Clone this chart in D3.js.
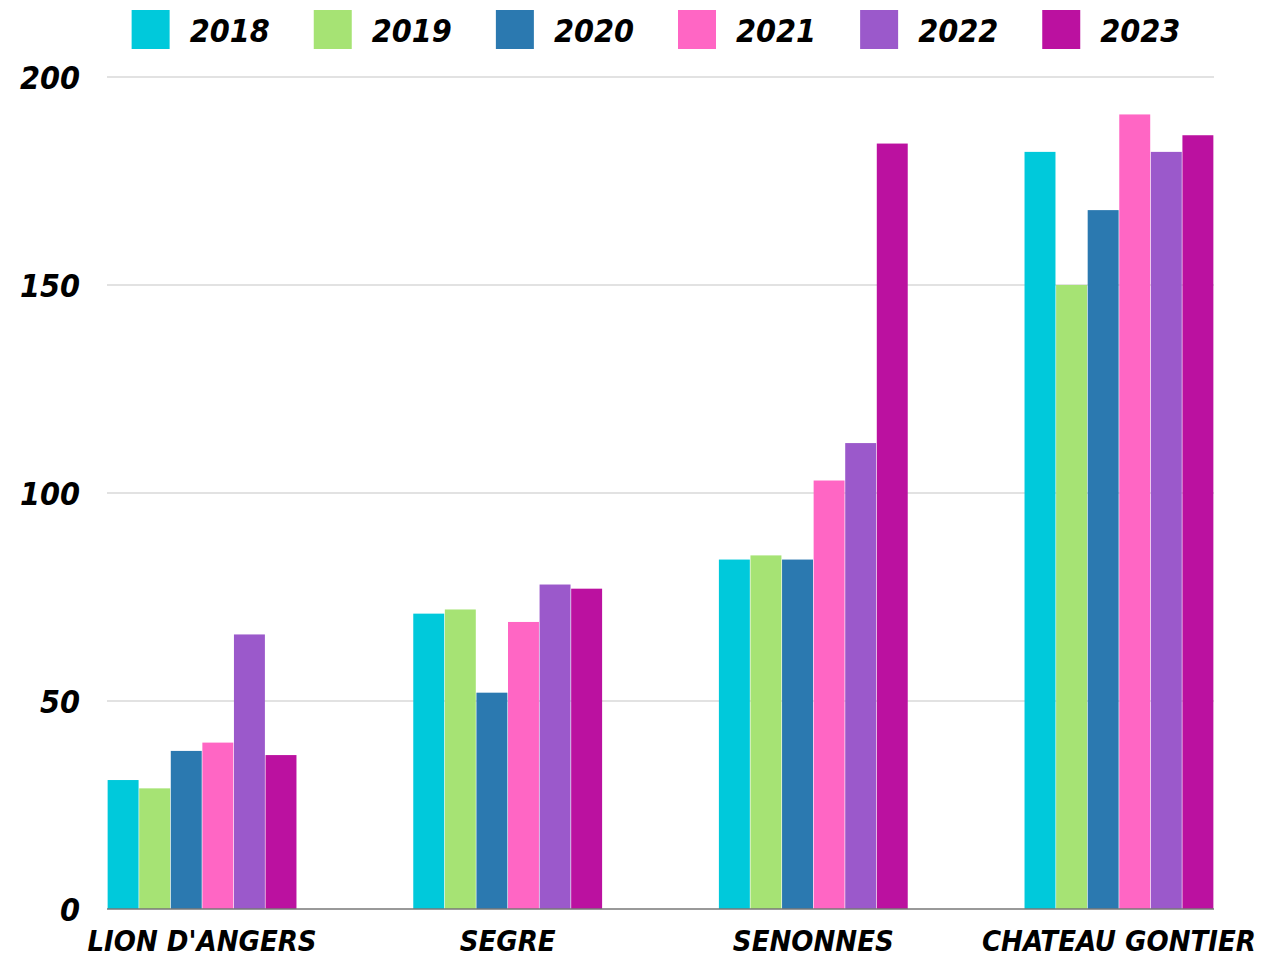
<!DOCTYPE html>
<html>
<head>
<meta charset="utf-8">
<script src="https://cdn.jsdelivr.net/npm/d3@7"></script>
<style>
  body { margin: 0; background: #fff; }
  text { font-family: "DejaVu Sans Condensed", "DejaVu Sans", sans-serif; font-weight: bold; font-style: oblique; fill: #000; }
</style>
</head>
<body>
<svg id="chart"></svg>
<script>
const towns = ["LION D'ANGERS", "SEGRE", "SENONNES", "CHATEAU GONTIER"];
const years = ["2018", "2019", "2020", "2021", "2022", "2023"];
const colors = ["#00c9db", "#a6e374", "#2b79b0", "#ff66c4", "#9b59cb", "#bb11a0"];
const v2018 = [31, 71, 84, 182];
const v2019 = [29, 72, 85, 150];
const v2020 = [38, 52, 84, 168];
const v2021 = [40, 69, 103, 191];
const v2022 = [66, 78, 112, 182];
const v2023 = [37, 77, 184, 186];
const yTicks = [0, 50, 100, 150, 200];

const series = [v2018, v2019, v2020, v2021, v2022, v2023];
const rows = towns.map((t, i) => ({town: t, vals: years.map((y, j) => ({year: y, value: series[j][i]}))}));

const W = 1261, H = 958;
const margin = {left: 107, right: 47, top: 77, bottom: 49};

const svg = d3.select("#chart")
    .attr("width", W)
    .attr("height", H)
    .attr("viewBox", [0, 0, W, H]);

const x0 = d3.scaleBand()
    .domain(towns)
    .range([margin.left, W - margin.right])
    .paddingInner(0.378)
    .paddingOuter(0);

const x1 = d3.scaleBand()
    .domain(years)
    .range([0, x0.bandwidth()])
    .padding(0.02);

const y = d3.scaleLinear()
    .domain([0, 200])
    .range([H - margin.bottom, margin.top]);

// grid
svg.append("g")
    .selectAll("line")
    .data(yTicks.filter(d => d > 0))
    .join("line")
    .attr("x1", margin.left)
    .attr("x2", W - margin.right)
    .attr("y1", d => y(d))
    .attr("y2", d => y(d))
    .style("stroke", "#d8d8d8")
    .style("stroke-width", 1.5);

// bars
const groups = svg.append("g")
    .selectAll("g")
    .data(rows)
    .join("g")
    .attr("transform", d => `translate(${x0(d.town)},0)`);

groups.selectAll("rect")
    .data(d => d.vals)
    .join("rect")
    .attr("x", d => x1(d.year))
    .attr("y", d => y(d.value))
    .attr("width", x1.bandwidth())
    .attr("height", d => y(0) - y(d.value))
    .style("fill", (d, i) => colors[i]);

// baseline
svg.append("line")
    .attr("x1", margin.left)
    .attr("x2", W - margin.right)
    .attr("y1", y(0))
    .attr("y2", y(0))
    .style("stroke", "#777")
    .style("stroke-width", 1.5);

// y labels
svg.append("g")
    .selectAll("text")
    .data(yTicks)
    .join("text")
    .attr("x", 80)
    .attr("y", d => y(d))
    .attr("dy", "0.38em")
    .attr("text-anchor", "end")
    .style("font-size", "32px")
    .text(d => d);

// x labels
svg.append("g")
    .selectAll("text")
    .data(towns)
    .join("text")
    .attr("x", d => x0(d) + x0.bandwidth() / 2)
    .attr("y", 951)
    .attr("text-anchor", "middle")
    .style("font-size", "29px")
    .text(d => d);

// legend
const legend = svg.append("g");
const items = legend.selectAll("g")
    .data(years)
    .join("g");
items.append("rect")
    .attr("width", 38)
    .attr("height", 39)
    .attr("y", 10)
    .style("fill", (d, i) => colors[i]);
items.append("text")
    .attr("x", 58)
    .attr("y", 42)
    .style("font-size", "32px")
    .text(d => d);

let cx = 0;
items.each(function () {
    const w = d3.select(this).select("text").node().getComputedTextLength();
    d3.select(this).attr("transform", `translate(${cx},0)`);
    cx += 58 + w + 44;
});
const totalW = cx - 44;
legend.attr("transform", `translate(${656 - totalW / 2},0)`);
</script>
</body>
</html>
